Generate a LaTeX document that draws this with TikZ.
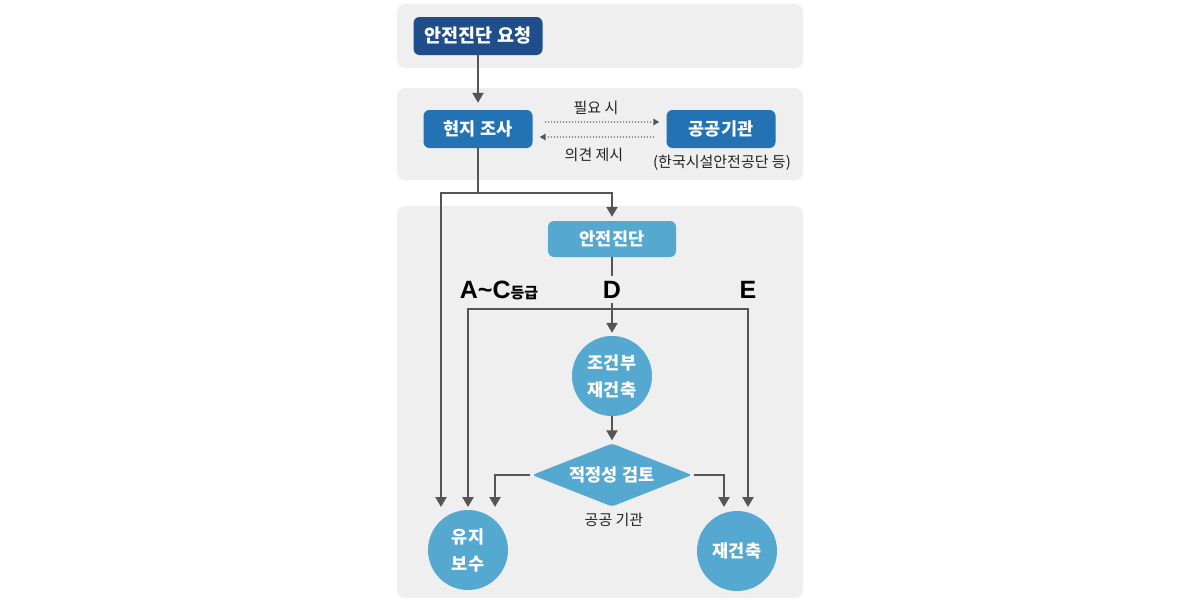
\documentclass[tikz,border=0pt]{standalone}
\usepackage{fontspec}
\setmainfont{Noto Sans CJK KR}
\newfontfamily\latinfont{Liberation Sans}
\usetikzlibrary{arrows.meta,shapes.geometric}
\definecolor{panelgray}{HTML}{EFEFEF}
\definecolor{darkblue}{HTML}{1F4E8A}
\definecolor{midblue}{HTML}{2272B4}
\definecolor{lightblue}{HTML}{55A8D0}
\definecolor{linegray}{HTML}{555555}
\definecolor{textdark}{HTML}{222222}

\begin{document}
\begin{tikzpicture}[x=1pt,y=-1pt,
    panel/.style={fill=panelgray,rounded corners=8pt},
    box/.style={rounded corners=6pt,text=white,font=\fontsize{17.5}{20}\selectfont\bfseries,minimum height=38pt,inner sep=0pt},
    disc/.style={circle,fill=lightblue,text=white,font=\fontsize{17.5}{27}\selectfont\bfseries,minimum size=80pt,inner sep=0pt,align=center},
    notetext/.style={text=textdark,font=\fontsize{15}{18}\selectfont},
    grade/.style={text=black,font=\fontsize{25}{28}\selectfont\bfseries\latinfont,inner sep=5pt,anchor=base},
    wire/.style={draw=linegray,line width=2.2pt},
    flow/.style={wire,-{Triangle[length=10pt,width=11pt]}},
    hint/.style={draw=linegray,line width=1.5pt,line cap=round,dash pattern=on 0pt off 3pt,-{Triangle[length=6pt,width=6.5pt]}}]
        \useasboundingbox (0,0) rectangle (1199,600);
        \fill[panel] (397,4) rectangle (803,68);
        \fill[panel] (397,88) rectangle (803,180);
        \fill[panel] (397,206) rectangle (803,598);

        \node[box,fill=darkblue,minimum width=129pt,font=\fontsize{18.5}{21}\selectfont\bfseries] (req) at (478,36) {안전진단 요청};
        \node[box,fill=midblue,minimum width=109pt] (survey) at (478,129) {현지 조사};
        \node[box,fill=midblue,minimum width=109pt] (agency) at (721,129) {공공기관};
        \node[notetext] (agencynote) at (722,163) {(한국시설안전공단 등)};
        \node[notetext] (need) at (596,108) {필요 시};
        \node[notetext] (opinion) at (594,155) {의견 제시};
        \node[box,fill=lightblue,minimum width=128pt,minimum height=36pt] (diag) at (612,239) {안전진단};

        \node[grade] (acgrade) at (499,298) {A\textasciitilde C{\rmfamily\bfseries\fontsize{15}{18}\selectfont 등급}};
        \node[grade] (dgrade) at (612,298) {D};
        \node[grade] (egrade) at (748,298) {E};

        \node[disc] (cond) at (612,376) {조건부\\재건축};
        \node[diamond,aspect=2.5,fill=lightblue,text=white,font=\fontsize{17.5}{20}\selectfont\bfseries,minimum width=160pt,minimum height=63pt,inner sep=0pt,rounded corners=3pt] (review) at (612,475) {적정성 검토};
        \node[notetext] (reviewnote) at (614,520) {공공 기관};
        \node[disc] (keep) at (468,550) {유지\\보수};
        \node[disc] (rebuild) at (737,551) {재건축};

        \coordinate (split) at (478,193);
        \coordinate (keepA) at (441,507);
        \coordinate (keepB) at (468,507);
        \coordinate (keepC) at (495,507);
        \coordinate (rebuildA) at (724,507);
        \coordinate (rebuildB) at (748,507);
        \coordinate (barL) at (468,309);
        \coordinate (barR) at (748,309);

        \draw[flow,shorten >=7pt] (req) -- (survey);
        \draw[wire] (survey) -- (split);
        \draw[flow,shorten >=4pt] (split) -| (diag.north);
        \draw[flow] (split) -| (keepA);
        \draw[hint,shorten <=13pt,shorten >=7pt] ([yshift=7pt]survey.east) -- ([yshift=7pt]agency.west);
        \draw[hint,shorten <=13pt,shorten >=7pt] ([yshift=-8pt]agency.west) -- ([yshift=-8pt]survey.east);

        \draw[wire] (diag) -- (dgrade);
        \draw[flow,shorten >=3pt] (dgrade) -- (cond);
        \draw[flow] (barR) -- (barL) -- (keepB);
        \draw[flow] (barL) -- (barR) -- (rebuildB);
        \draw[flow,shorten >=3pt] (cond) -- (review);
        \draw[flow,shorten <=2pt] (review.west) -| (keepC);
        \draw[flow,shorten <=2pt] (review.east) -| (rebuildA);
    \end{tikzpicture}
\end{document}
